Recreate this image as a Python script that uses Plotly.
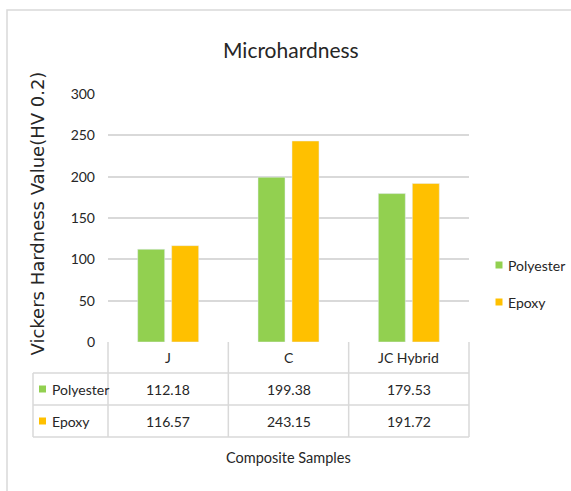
"""
Microhardness bar chart with an Excel-style data table underneath.
"""

import plotly.graph_objects as go

samples = ['J', 'C', 'JC Hybrid']
polyester = [112.18, 199.38, 179.53]
epoxy = [116.57, 243.15, 191.72]
series_names = ['Polyester', 'Epoxy']
y_ticks = [0, 50, 100, 150, 200, 250, 300]

GREEN = '#92D050'
GOLD = '#FFC000'
GRID = '#D9D9D9'
TXT = '#262626'
FONT = 'Lato, Liberation Sans, sans-serif'

W, H = 571, 491
# plot area in pixels
L, R, T, B = 108, 469, 94, 342


def px(x):
    return (x - L) / (R - L)


def py(y):
    return (B - y) / (B - T)


def label(x, y, text, size=14, xanchor='center', **kw):
    return dict(x=px(x), y=py(y), xref='paper', yref='paper', text=text,
                showarrow=False, xanchor=xanchor, yanchor='middle',
                font=dict(size=size, color=TXT, **kw))


def square(x, y, color, half=3.5):
    return dict(type='rect', xref='paper', yref='paper',
                x0=px(x - half), x1=px(x + half), y0=py(y + half), y1=py(y - half),
                fillcolor=color, line=dict(width=0))


fig = go.Figure()
fig.add_trace(go.Bar(x=samples, y=polyester, name='Polyester', marker_color=GREEN))
fig.add_trace(go.Bar(x=samples, y=epoxy, name='Epoxy', marker_color=GOLD))

shapes = []
annotations = []

# outer chart border
shapes.append(dict(type='rect', xref='paper', yref='paper',
                   x0=px(7), x1=px(620), y0=py(520), y1=py(10),
                   line=dict(color=GRID, width=1.5), layer='below'))

# data table grid
for yy in [373, 405, 437]:
    shapes.append(dict(type='line', xref='paper', yref='paper',
                       x0=px(33), x1=1, y0=py(yy), y1=py(yy),
                       line=dict(color=GRID, width=1.5)))
n = len(samples)
for k in range(n + 1):
    shapes.append(dict(type='line', xref='paper', yref='paper',
                       x0=k / n, x1=k / n, y0=py(B), y1=py(437),
                       line=dict(color=GRID, width=1.5)))
shapes.append(dict(type='line', xref='paper', yref='paper',
                   x0=px(33), x1=px(33), y0=py(373), y1=py(437),
                   line=dict(color=GRID, width=1.5)))

col_x = [L + (k + 0.5) * (R - L) / n for k in range(n)]

# header row: category names
for cx, s in zip(col_x, samples):
    annotations.append(label(cx, 357.5, s))

# value rows + legend keys
rows = [(polyester, GREEN, 389, 265), (epoxy, GOLD, 421, 302)]
for (vals, col, yc, ly), name in zip(rows, series_names):
    shapes.append(square(42.5, yc, col))
    annotations.append(label(50, yc, name, xanchor='left'))
    for cx, v in zip(col_x, vals):
        annotations.append(label(cx, yc, f'{v:.2f}'))
    # legend on the right
    shapes.append(square(499, ly, col))
    annotations.append(label(506, ly, name, xanchor='left'))

# axis titles and chart title
annotations.append(label(288.5, 457, 'Composite Samples', size=14.5))
annotations.append(dict(x=px(37), y=py(213.5), xref='paper', yref='paper',
                        text='Vickers Hardness Value(HV 0.2)', showarrow=False,
                        textangle=-90, xanchor='center', yanchor='middle',
                        font=dict(family='DejaVu Sans, Verdana, sans-serif',
                                  size=18, color=TXT)))
annotations.append(label(291, 49, 'Microhardness', size=21))

fig.update_layout(
    width=W, height=H,
    margin=dict(l=L, r=W - R, t=T, b=H - B, pad=0, autoexpand=False),
    paper_bgcolor='white', plot_bgcolor='white',
    font=dict(family=FONT, color=TXT),
    barmode='group', bargap=0.435, bargroupgap=0.206,
    showlegend=False,
    xaxis=dict(showticklabels=False, showline=False, showgrid=False,
               zeroline=False, ticks=''),
    yaxis=dict(range=[0, 300], tickvals=y_ticks, showgrid=True,
               gridcolor=GRID, gridwidth=1.5, zeroline=False, showline=False,
               ticks='', ticklabelstandoff=12, tickfont=dict(size=14, color=TXT)),
    shapes=shapes, annotations=annotations,
)

fig.write_html('out.html', config={'displayModeBar': False},
               post_script="document.body.style.margin='0';")
